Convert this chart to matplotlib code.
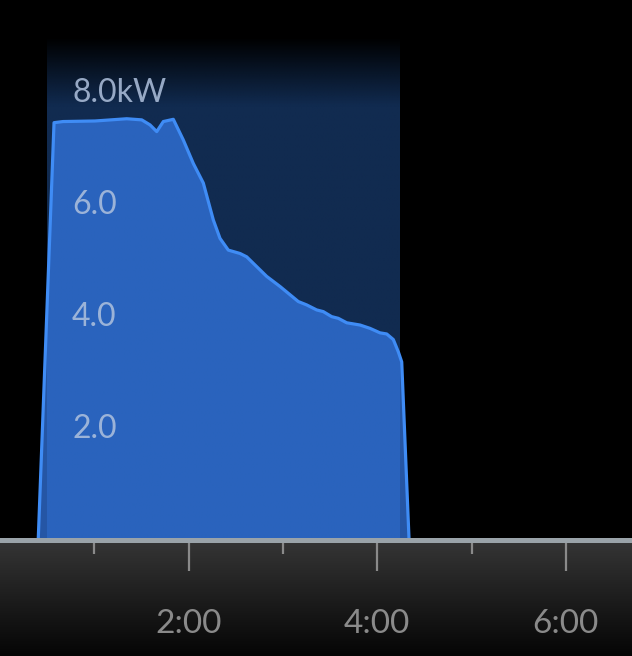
import numpy as np
import matplotlib
matplotlib.use("Agg")
import matplotlib.pyplot as plt
from matplotlib.colors import to_rgb
import matplotlib.transforms as mtransforms

# ---- data ----
hours = [0.406, 0.573, 0.668, 1.007, 1.344, 1.503, 1.591, 1.662, 1.732, 1.838,
         1.944, 2.050, 2.156, 2.262, 2.333, 2.421, 2.545, 2.616, 2.828, 2.969,
         3.163, 3.252, 3.358, 3.428, 3.517, 3.587, 3.677, 3.818, 3.924, 4.030,
         4.101, 4.171, 4.224, 4.260, 4.337]
power_kw = [0.0, 7.43, 7.45, 7.46, 7.50, 7.48, 7.39, 7.27, 7.45, 7.49,
            7.12, 6.70, 6.35, 5.69, 5.36, 5.15, 5.09, 5.03, 4.68, 4.50,
            4.23, 4.17, 4.08, 4.05, 3.96, 3.93, 3.85, 3.81, 3.75, 3.67,
            3.65, 3.55, 3.33, 3.15, 0.0]
window_start, window_end = 0.498, 4.24
y_ticks = [2, 4, 6, 8]
y_labels = ["2.0", "4.0", "6.0", "8.0kW"]
x_major = [2, 4, 6]
x_labels = ["2:00", "4:00", "6:00"]
x_minor = [1, 3, 5]

W, H = 632, 656
px_per_hour = 94.3
px_per_kw = 55.9
base_px = 538  # from top
xmax = W / px_per_hour
ymax = base_px / px_per_kw

fig = plt.figure(figsize=(W / 100, H / 100), dpi=100, facecolor="black")
ax = fig.add_axes([0, (H - base_px) / H, 1, base_px / H])
ax.set_facecolor("black")
ax.set_xlim(0, xmax)
ax.set_ylim(0, ymax)
ax.axis("off")

# shaded window with top fade
navy = np.array(to_rgb("#112b50"))
top_val = ymax - 37 / px_per_kw
fade_val = ymax - 105 / px_per_kw
n = 400
yy = np.linspace(top_val, 0, n)
alpha = np.clip((top_val - yy) / (top_val - fade_val), 0, 1)
img = np.zeros((n, 2, 4))
img[:, :, :3] = navy
img[:, :, 3] = alpha[:, None]
ax.imshow(img, extent=[window_start, window_end, 0, top_val], aspect="auto",
          interpolation="bilinear", zorder=1)

ax.fill_between(hours, power_kw, 0, color="#357cec", alpha=0.7, lw=0, zorder=2)
ax.plot(hours, power_kw, color="#3f8cf5", lw=2.3, zorder=3, solid_joinstyle="round")

trans = mtransforms.blended_transform_factory(ax.transAxes, ax.transData)
for v, lab in zip(y_ticks, y_labels):
    ax.text(72 / W, v - 11.5 / px_per_kw, lab, transform=trans, ha="left",
            va="baseline", fontsize=23, family="Lato", color="#b0c2de",
            alpha=0.85, zorder=5)

# bottom band
band_h = H - 539.5
ax2 = fig.add_axes([0, 0, 1, band_h / H])
ax2.set_xlim(0, xmax)
ax2.set_ylim(0, 1)
grad = np.linspace(0, 1, 256)[:, None]
c_top = np.array(to_rgb("#363636"))
c_bot = np.array(to_rgb("#050505"))
gimg = c_top[None, None, :] * (1 - grad[:, :, None]) + c_bot[None, None, :] * grad[:, :, None]
gimg = np.repeat(gimg, 2, axis=1)
ax2.imshow(gimg, extent=[0, xmax, 0, 1], aspect="auto", zorder=0)
for s in ["left", "right", "bottom"]:
    ax2.spines[s].set_visible(False)
ax2.spines["top"].set_color("#9aa3a9")
ax2.spines["top"].set_linewidth(3.6)
ax2.xaxis.tick_top()
ax2.set_xticks(x_major)
ax2.set_xticks(x_minor, minor=True)
ax2.tick_params(axis="x", which="major", direction="in", length=22, width=1.6,
                color="#8a8a8a", labeltop=False)
ax2.tick_params(axis="x", which="minor", direction="in", length=10, width=1.6,
                color="#8a8a8a")
ax2.set_yticks([])
for v, lab in zip(x_major, x_labels):
    ax2.text(v, (H - 633) / band_h, lab, ha="center", va="baseline",
             fontsize=24, family="Lato", color="#8a8a8a")

fig.savefig("out.png", dpi=100, facecolor="black")
